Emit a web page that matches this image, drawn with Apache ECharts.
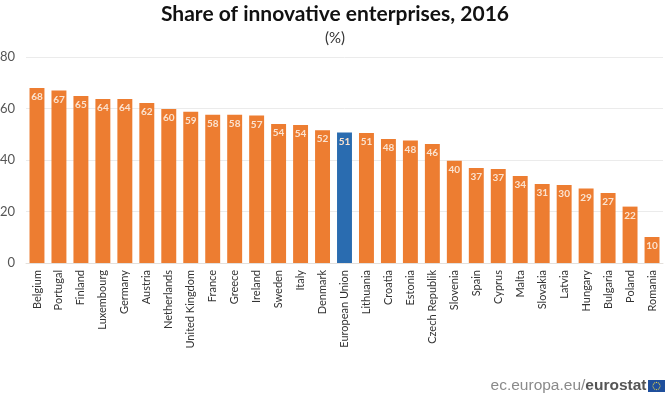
<!DOCTYPE html>
<html><head><meta charset="utf-8">
<script src="https://cdn.jsdelivr.net/npm/echarts@6/dist/echarts.min.js"></script>
<style>html,body{margin:0;padding:0;background:#fff}#c{width:670px;height:394px}</style>
</head><body><div id="c"></div>
<script>
const categories = ["Belgium","Portugal","Finland","Luxembourg","Germany","Austria","Netherlands","United Kingdom","France","Greece","Ireland","Sweden","Italy","Denmark","European Union","Lithuania","Croatia","Estonia","Czech Republik","Slovenia","Spain","Cyprus","Malta","Slovakia","Latvia","Hungary","Bulgaria","Poland","Romania"];
const values = [68,67,64.9,63.7,63.7,62.1,59.8,58.7,57.6,57.6,57.3,54,53.6,51.6,50.7,50.5,48.2,47.6,46.2,39.7,36.9,36.5,33.8,30.7,30.3,28.9,27.2,21.9,10.1];
const highlighted = "European Union";
const yTicks = [0,20,40,60,80];
const chart = echarts.init(document.getElementById('c'),null,{renderer:'canvas'});
const flagStars = [];
for(let i=0;i<12;i++){const a=i*Math.PI/6;flagStars.push({type:'circle',shape:{cx:656.5+3.6*Math.cos(a),cy:386+3.6*Math.sin(a),r:0.6},style:{fill:'#e8d44a'}});}
chart.setOption({
 animation:false,
 title:{text:'Share of innovative enterprises, 2016',subtext:'(%)',left:330,textAlign:'center',top:-1,itemGap:6,
  textStyle:{fontFamily:'Lato',fontWeight:'bold',fontSize:21,color:'#111'},
  subtextStyle:{fontFamily:'Lato',fontSize:15,color:'#333'}},
 grid:{left:26,right:7,top:57,bottom:131,outerBoundsMode:'none'},
 xAxis:{type:'category',data:categories,
  axisLine:{lineStyle:{color:'#e4e0dc'}},axisTick:{show:false},
  axisLabel:{rotate:90,interval:0,fontFamily:'Lato',fontSize:11,color:'#333',margin:7}},
 yAxis:{type:'value',min:yTicks[0],max:yTicks[yTicks.length-1],interval:20,
  axisLine:{show:false},axisTick:{show:false},
  splitLine:{lineStyle:{color:'#ebebeb'}},
  axisLabel:{fontFamily:'Lato',fontSize:13,color:'#555',margin:11}},
 series:[{type:'bar',barCategoryGap:'32%',
  data:categories.map((c,i)=>({value:values[i],itemStyle:{color:c===highlighted?'#2a6cb0':'#ed7d31'}})),
  label:{show:true,position:'insideTop',distance:4,fontFamily:'Lato',fontWeight:'bold',fontSize:10,color:'#fbe3d0',formatter:p=>Math.round(p.value)}}],
 graphic:[
  {type:'text',style:{x:646.5,y:386,text:'{a|ec.europa.eu/}{b|eurostat}',textAlign:'right',textVerticalAlign:'middle',
    rich:{a:{font:'15.5px "Liberation Sans"',fill:'#8a8a8a',color:'#8a8a8a'},b:{font:'bold 15.5px "Liberation Sans"',fill:'#555',color:'#555'}}}},
  {type:'rect',shape:{x:648,y:380,width:17,height:12},style:{fill:'#1f4f9c'}},
  ...flagStars
 ]
});
</script></body></html>
